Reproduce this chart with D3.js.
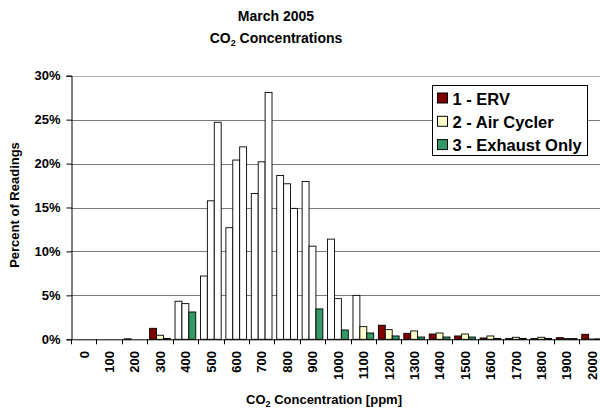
<!DOCTYPE html>
<html>
<head>
<meta charset="utf-8">
<script src="https://cdn.jsdelivr.net/npm/d3@7/dist/d3.min.js"></script>
<style>
  html, body { margin: 0; padding: 0; background: #fff; }
  svg { display: block; font-family: "Liberation Sans", Arial, sans-serif; font-weight: bold; }
</style>
</head>
<body>
<svg id="chart" width="600" height="408"></svg>
<script>
// CO2 concentration bins (ppm) and share of readings (%) per ventilation system
const bins = ["0","100","200","300","400","500","600","700","800","900","1000",
              "1100","1200","1300","1400","1500","1600","1700","1800","1900","2000"];
const seriesNames = ["1 - ERV", "2 - Air Cycler", "3 - Exhaust Only"];
const erv        = [0, 0, 0.05, 1.25, 4.33, 7.2, 12.7, 16.6, 18.65, 17.96, 11.4, 5.0, 1.6, 0.68, 0.6, 0.38, 0.15, 0.08, 0.08, 0.19, 0.57];
const airCycler  = [0, 0, 0, 0.46, 4.06, 15.76, 20.4, 20.2, 17.7, 10.6, 4.63, 1.44, 1.1, 0.95, 0.72, 0.6, 0.38, 0.23, 0.23, 0.08, 0.03];
const exhaustOnly= [0, 0, 0, 0.1, 3.11, 24.7, 21.9, 28.1, 14.9, 3.46, 1.06, 0.72, 0.38, 0.26, 0.26, 0.26, 0.1, 0.1, 0.1, 0.08, 0.05];
const yTicks = [0, 5, 10, 15, 20, 25, 30];
const colors = ["#800000", "#FFFFCC", "#339966"];

const seriesValues = [erv, airCycler, exhaustOnly];
const svg = d3.select("#chart");

const plot = { left: 71, top: 75.7, bottom: 339.3 };
const step = 25.42;
const x0 = d3.scaleBand().domain(bins).range([plot.left, plot.left + step * bins.length]).padding(0);
const x1 = d3.scaleBand().domain(seriesNames).range([0, x0.bandwidth()]).paddingInner(0).paddingOuter(0.34);
const y = d3.scaleLinear().domain([0, 30]).range([plot.bottom, plot.top]);

// gridlines
svg.append("g").selectAll("line").data(yTicks.filter(d => d > 0)).join("line")
  .attr("x1", plot.left).attr("x2", 600)
  .attr("y1", d => Math.round(y(d)) + 0.5).attr("y2", d => Math.round(y(d)) + 0.5)
  .attr("stroke", d => d === 30 ? "#b0b0b0" : "#7a7a7a").attr("stroke-width", 1);

// bars (tall bars are drawn outline only)
const groups = svg.append("g").selectAll("g").data(bins).join("g")
  .attr("transform", d => `translate(${x0(d)},0)`);
groups.selectAll("rect")
  .data((b, i) => seriesNames.map((s, k) => ({ s, k, v: seriesValues[k][i] })))
  .join("rect")
  .attr("x", d => x1(d.s))
  .attr("y", d => y(d.v))
  .attr("width", x1.bandwidth())
  .attr("height", d => plot.bottom - y(d.v))
  .attr("fill", d => d.v > 4 ? "#ffffff" : colors[d.k])
  .attr("stroke", "#000").attr("stroke-width", 0.9)
  .attr("visibility", d => d.v > 0 ? "visible" : "hidden");

// y axis
const yAxis = d3.axisLeft(y).tickValues(yTicks).tickFormat(d => d + "%").tickSize(5).tickPadding(6);
const ya = svg.append("g").attr("transform", `translate(${plot.left + 0.5},0)`).call(yAxis);
ya.select(".domain").attr("stroke", "#000");
ya.selectAll(".tick line").attr("stroke", "#000");
ya.selectAll("text").attr("font-size", 13).attr("font-weight", "bold")
  .attr("font-family", "Liberation Sans, Arial, sans-serif").attr("fill", "#000");

// x axis baseline and category ticks
svg.append("line").attr("x1", plot.left).attr("x2", 600)
  .attr("y1", plot.bottom + 0.5).attr("y2", plot.bottom + 0.5).attr("stroke", "#000");
svg.append("g").selectAll("line").data(bins).join("line")
  .attr("x1", d => Math.round(x0(d)) + 0.5).attr("x2", d => Math.round(x0(d)) + 0.5)
  .attr("y1", plot.bottom).attr("y2", plot.bottom + 5).attr("stroke", "#000");
svg.append("g").selectAll("text").data(bins).join("text")
  .attr("transform", d => `translate(${x0(d) + x0.bandwidth() / 2 + 4.8},351) rotate(-90)`)
  .attr("text-anchor", "end").attr("font-size", 13).attr("fill", "#000")
  .text(d => d);

// titles
const title = svg.append("text").attr("x", 276).attr("text-anchor", "middle").attr("font-size", 14);
title.append("tspan").attr("x", 276).attr("y", 21).text("March 2005");
const t2 = svg.append("text").attr("x", 276).attr("y", 43).attr("text-anchor", "middle").attr("font-size", 14);
t2.append("tspan").text("CO");
t2.append("tspan").attr("font-size", 9).attr("dy", 3).text("2");
t2.append("tspan").attr("dy", -3).text(" Concentrations");

const xt = svg.append("text").attr("x", 324).attr("y", 404).attr("text-anchor", "middle").attr("font-size", 13);
xt.append("tspan").text("CO");
xt.append("tspan").attr("font-size", 9).attr("dy", 3).text("2");
xt.append("tspan").attr("dy", -3).text(" Concentration [ppm]");

svg.append("text").attr("transform", "translate(19,205) rotate(-90)")
  .attr("text-anchor", "middle").attr("font-size", 13).text("Percent of Readings");

// legend
const lg = svg.append("g").attr("transform", "translate(432.5,85.5)");
lg.append("rect").attr("width", 155).attr("height", 70).attr("fill", "#fff").attr("stroke", "#000");
const items = lg.selectAll("g").data(seriesNames).join("g")
  .attr("transform", (d, i) => `translate(5,${13 + i * 23.3})`);
items.append("rect").attr("x", 0).attr("y", -5.5).attr("width", 10).attr("height", 10)
  .attr("fill", (d, i) => colors[i]).attr("stroke", "#000");
items.append("text").attr("x", 15).attr("y", 6).attr("font-size", 16.5).text(d => d);
</script>
</body>
</html>
